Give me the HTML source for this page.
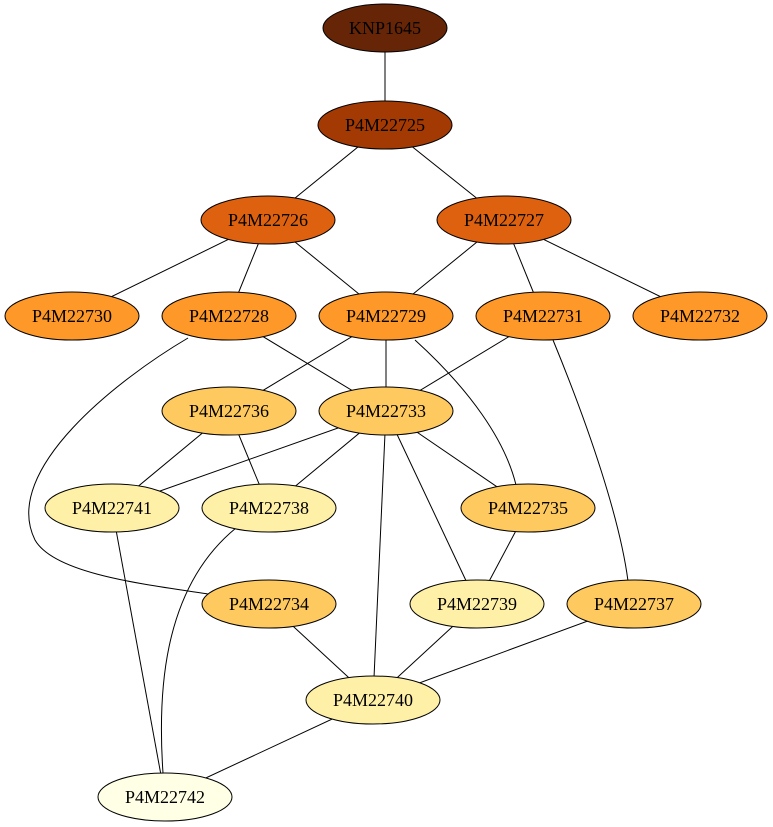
<!DOCTYPE html>
<html><head><meta charset="utf-8"><style>
html,body{margin:0;padding:0;background:#fff}
svg{display:block}
svg text{font-family:"Liberation Serif","Times New Roman",serif !important;font-size:18px}
</style></head><body>
<svg id="g" width="773" height="827" viewBox="0 0 773 827"></svg>
<script>
const nodeNames=["KNP1645","P4M22725","P4M22726","P4M22727","P4M22730","P4M22728","P4M22729","P4M22731","P4M22732","P4M22736","P4M22733","P4M22741","P4M22738","P4M22735","P4M22734","P4M22739","P4M22737","P4M22740","P4M22742"];
const nodeX=[385,385,268,504,72,229,386,543,700,229,386,112,269,528,269,477,634,373,165];
const nodeY=[28,125,220,220,316,316,316,316,316,411,411,508,508,508,604,604,604,700,797];
const nodeColors=["#662506","#a33a03","#dd610e","#dd610e","#fe9929","#fe9929","#fe9929","#fe9929","#fe9929","#fec95f","#fec95f","#fff0a8","#fff0a8","#fec95f","#fec95f","#fff0a8","#fec95f","#fff0a8","#ffffe5"];
const edges=[["KNP1645","P4M22725"],["P4M22725","P4M22726"],["P4M22725","P4M22727"],["P4M22726","P4M22730"],["P4M22726","P4M22728"],["P4M22726","P4M22729"],["P4M22727","P4M22729"],["P4M22727","P4M22731"],["P4M22727","P4M22732"],["P4M22728","P4M22733"],["P4M22729","P4M22736"],["P4M22729","P4M22733"],["P4M22731","P4M22733"],["P4M22736","P4M22741"],["P4M22736","P4M22738"],["P4M22733","P4M22741"],["P4M22733","P4M22738"],["P4M22733","P4M22735"],["P4M22733","P4M22739"],["P4M22733","P4M22740"],["P4M22735","P4M22739"],["P4M22741","P4M22742"],["P4M22734","P4M22740"],["P4M22739","P4M22740"],["P4M22737","P4M22740"],["P4M22740","P4M22742"]];
const curvedEdges=[["P4M22728","P4M22734","M188,338 C120,378 0,470 35,540 C55,575 150,585 215,595"],["P4M22729","P4M22735","M415,340 C470,390 505,440 516,485"],["P4M22731","P4M22737","M553,340 C590,430 620,520 628,581"],["P4M22738","P4M22742","M236,528 C160,590 158,700 163,773"]];
const svg=document.getElementById('g');const NS="http://www.w3.org/2000/svg";
const idx=n=>nodeNames.indexOf(n);
edges.forEach(e=>{const a=idx(e[0]),b=idx(e[1]);
const l=document.createElementNS(NS,'line');
l.setAttribute('x1',nodeX[a]);l.setAttribute('y1',nodeY[a]);l.setAttribute('x2',nodeX[b]);l.setAttribute('y2',nodeY[b]);
l.setAttribute('stroke','#000');l.setAttribute('stroke-width','1');


svg.appendChild(l);});
curvedEdges.forEach(e=>{const p=document.createElementNS(NS,'path');
p.setAttribute('d',e[2]);p.setAttribute('fill','none');p.setAttribute('stroke','#000');


svg.appendChild(p);});
nodeNames.forEach((n,i)=>{const g=document.createElementNS(NS,'g');


const e=document.createElementNS(NS,'ellipse');
e.setAttribute('cx',nodeX[i]);e.setAttribute('cy',nodeY[i]);e.setAttribute('rx',i===0?62:67);e.setAttribute('ry',24);
e.setAttribute('fill',nodeColors[i]);e.setAttribute('stroke','#000');
const t=document.createElementNS(NS,'text');
t.setAttribute('x',nodeX[i]);t.setAttribute('y',nodeY[i]+6);t.setAttribute('text-anchor','middle');
t.setAttribute('font-family','Liberation Serif, serif');
t.setAttribute('font-size','18');
t.textContent=n;
g.appendChild(e);g.appendChild(t);svg.appendChild(g);});
</script>
</body></html>
